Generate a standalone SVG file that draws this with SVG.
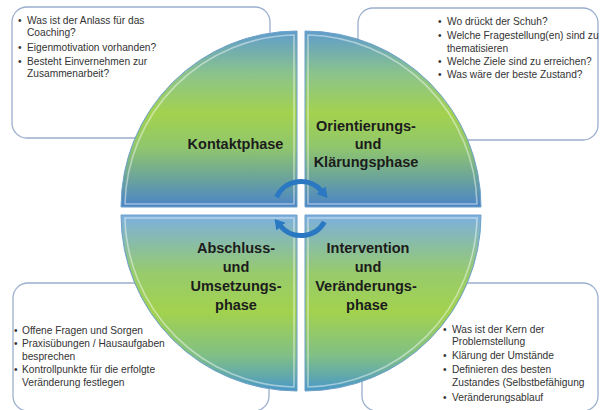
<svg xmlns="http://www.w3.org/2000/svg" width="601" height="410" viewBox="0 0 601 410">
<defs>
<style>
.box{fill:#fff;stroke:#9aafcd;stroke-width:1.3}
.q{stroke:#6b9fc9;stroke-width:1}
.hl{fill:none;stroke:#ffffff;stroke-opacity:0.45;stroke-width:1.6}
.lbl{font-family:"Liberation Sans",Arial,sans-serif;font-weight:bold;font-size:14.5px;fill:#1c1c1c;text-anchor:middle}
.t{font-family:"Liberation Sans",Arial,sans-serif;font-size:10.2px;fill:#333}
.arr{fill:none;stroke:#2b78c2;stroke-width:5}
</style>
<linearGradient id="gUp" gradientUnits="userSpaceOnUse" x1="0" y1="31" x2="0" y2="207">
<stop offset="0" stop-color="#5f9ccc"/>
<stop offset="0.25" stop-color="#8cc48a"/>
<stop offset="0.47" stop-color="#a3d24e"/>
<stop offset="0.66" stop-color="#90c66c"/>
<stop offset="1" stop-color="#4a84c6"/>
</linearGradient>
<linearGradient id="gDn" gradientUnits="userSpaceOnUse" x1="0" y1="215" x2="0" y2="391">
<stop offset="0" stop-color="#7cafdf"/>
<stop offset="0.33" stop-color="#97cb6c"/>
<stop offset="0.55" stop-color="#a3d24e"/>
<stop offset="0.8" stop-color="#80bf86"/>
<stop offset="1" stop-color="#4a98c8"/>
</linearGradient>
<marker id="ah" viewBox="0 0 10 12" refX="1" refY="6" markerWidth="10" markerHeight="12" markerUnits="userSpaceOnUse" orient="auto">
<path d="M0,0 L10,6 L0,12 Z" fill="#2b78c2"/>
</marker>
</defs>

<g id="box-tl">
<rect class="box" x="12" y="7" width="258" height="131" rx="15"/>
<text class="t" x="18" y="23.5">•</text>
<text class="t" x="27" y="23.5">Was ist der Anlass für das</text>
<text class="t" x="27" y="36">Coaching?</text>
<text class="t" x="18" y="50.5">•</text>
<text class="t" x="27" y="50.5">Eigenmotivation vorhanden?</text>
<text class="t" x="18" y="64.5">•</text>
<text class="t" x="27" y="64.5">Besteht Einvernehmen zur</text>
<text class="t" x="27" y="77">Zusammenarbeit?</text>
</g>

<g id="box-tr">
<rect class="box" x="358" y="8" width="240" height="132" rx="15"/>
<text class="t" x="438" y="24.5">•</text>
<text class="t" x="447" y="24.5">Wo drückt der Schuh?</text>
<text class="t" x="438" y="39">•</text>
<text class="t" x="447" y="39">Welche Fragestellung(en) sind zu</text>
<text class="t" x="447" y="51.5">thematisieren</text>
<text class="t" x="438" y="65">•</text>
<text class="t" x="447" y="65">Welche Ziele sind zu erreichen?</text>
<text class="t" x="438" y="78">•</text>
<text class="t" x="447" y="78">Was wäre der beste Zustand?</text>
</g>

<g id="box-bl">
<rect class="box" x="13" y="283" width="256" height="128" rx="15"/>
<text class="t" x="14" y="333.5">•</text>
<text class="t" x="22" y="333.5">Offene Fragen und Sorgen</text>
<text class="t" x="14" y="347">•</text>
<text class="t" x="22" y="347">Praxisübungen / Hausaufgaben</text>
<text class="t" x="22" y="360">besprechen</text>
<text class="t" x="14" y="373">•</text>
<text class="t" x="22" y="373">Kontrollpunkte für die erfolgte</text>
<text class="t" x="22" y="386">Veränderung festlegen</text>
</g>

<g id="box-br">
<rect class="box" x="362" y="283" width="236" height="128" rx="15"/>
<text class="t" x="443" y="333">•</text>
<text class="t" x="452" y="333">Was ist der Kern der</text>
<text class="t" x="452" y="345">Problemstellung</text>
<text class="t" x="443" y="359">•</text>
<text class="t" x="452" y="359">Klärung der Umstände</text>
<text class="t" x="443" y="373">•</text>
<text class="t" x="452" y="373">Definieren des besten</text>
<text class="t" x="452" y="386">Zustandes (Selbstbefähigung</text>
<text class="t" x="443" y="400.5">•</text>
<text class="t" x="452" y="400.5">Veränderungsablauf</text>
</g>

<g id="q-kontakt">
<path class="q" fill="url(#gUp)" d="M297,207 L121,207 A176,176 0 0 1 297,31 Z"/>
<path class="hl" d="M294,204 L125,204 A173,173 0 0 1 294,35 Z"/>
<text class="lbl" x="235.5" y="149">Kontaktphase</text>
</g>

<g id="q-orientierung">
<path class="q" fill="url(#gUp)" d="M305,207 L305,31 A176,176 0 0 1 481,207 Z"/>
<path class="hl" d="M308,204 L308,35 A173,173 0 0 1 477,204 Z"/>
<text class="lbl" x="366" y="131">Orientierungs-</text>
<text class="lbl" x="368" y="149">und</text>
<text class="lbl" x="366" y="167">Klärungsphase</text>
</g>

<g id="q-intervention">
<path class="q" fill="url(#gDn)" d="M305,215 L481,215 A176,176 0 0 1 305,391 Z"/>
<path class="hl" d="M308,218 L477,218 A173,173 0 0 1 308,387 Z"/>
<text class="lbl" x="368" y="253">Intervention</text>
<text class="lbl" x="368" y="272">und</text>
<text class="lbl" x="366" y="291">Veränderungs-</text>
<text class="lbl" x="367" y="310">phase</text>
</g>

<g id="q-abschluss">
<path class="q" fill="url(#gDn)" d="M297,215 L297,391 A176,176 0 0 1 121,215 Z"/>
<path class="hl" d="M294,218 L294,387 A173,173 0 0 1 125,218 Z"/>
<text class="lbl" x="236" y="253">Abschluss-</text>
<text class="lbl" x="236" y="272">und</text>
<text class="lbl" x="236" y="291">Umsetzungs-</text>
<text class="lbl" x="236" y="310">phase</text>
</g>

<g id="connectors">
<path class="arr" marker-end="url(#ah)" d="M276.5,197.1 A27,27 0 0 1 321.7,191.1"/>
<path class="arr" marker-end="url(#ah)" d="M324.4,222 A27,27 0 0 1 280.3,225.9"/>
</g>
</svg>
